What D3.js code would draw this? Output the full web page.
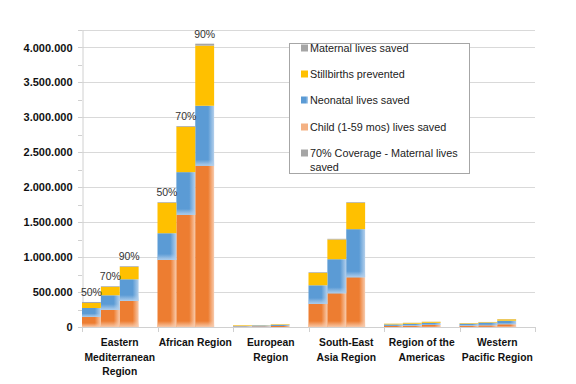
<!DOCTYPE html>
<html lang="en">
<head>
<meta charset="UTF-8">
<title>Lives saved by region</title>
<script src="https://cdn.jsdelivr.net/npm/d3@7"></script>
<style>
  body { margin: 0; background: #fff; }
  svg { display: block; font-family: "Liberation Sans", Arial, sans-serif; }
</style>
</head>
<body>
<svg width="576" height="384"></svg>
<script>
// categories and coverage levels
var regions = ['Eastern Mediterranean Region', 'African Region', 'European Region',
               'South-East Asia Region', 'Region of the Americas', 'Western Pacific Region'];
var regionLines = [['Eastern', 'Mediterranean', 'Region'], ['African Region'], ['European', 'Region'],
                   ['South-East', 'Asia Region'], ['Region of the', 'Americas'], ['Western', 'Pacific Region']];
var coverage = ['50%', '70%', '90%'];
var labelledRegions = ['Eastern Mediterranean Region', 'African Region'];

// values per region, one per coverage level
var child       = [[143000, 244000, 372000], [960000, 1605000, 2307000], [8000, 10000, 15000],
                   [330000, 483000, 712000], [15000, 20000, 30000], [20000, 25000, 40000]];
var neonatal    = [[129000, 210000, 311000], [382000, 611000, 859000], [7000, 12000, 15000],
                   [267000, 487000, 688000], [22000, 27000, 30000], [27000, 37000, 50000]];
var stillbirths = [[72000, 119000, 177000], [435000, 649000, 860000], [9000, 3000, 8000],
                   [177000, 282000, 377000], [10000, 12000, 14000], [8000, 8000, 20000]];
var maternal    = [[14000, 10000, 10000], [10000, 11000, 28000], [1000, 1000, 2000],
                   [10000, 10000, 10000], [1000, 2000, 2000], [1000, 2000, 3000]];

var yTicks = [0, 500000, 1000000, 1500000, 2000000, 2500000, 3000000, 3500000, 4000000];
var legendNames = ['Maternal lives saved', 'Stillbirths prevented', 'Neonatal lives saved',
                   'Child (1-59 mos) lives saved', '70% Coverage - Maternal lives saved'];

var keys = ['child', 'neonatal', 'stillbirths', 'maternal'];
var colors = { child: '#ED7D31', neonatal: '#5B9BD5', stillbirths: '#FFC000', maternal: '#A5A5A5' };
var edge = { child: '#F8CBAD', neonatal: '#B4D0EC' };

var svg = d3.select('svg');
var plotLeft = 82, plotRight = 535, plotTop = 30, plotBottom = 327;

// rows for the stack
var rows = [];
regions.forEach(function (r, i) {
  coverage.forEach(function (c, j) {
    rows.push({ region: r, cov: c, child: child[i][j], neonatal: neonatal[i][j],
                stillbirths: stillbirths[i][j], maternal: maternal[i][j] });
  });
});
var stacked = d3.stack().keys(keys)(rows);

var x0 = d3.scaleBand().domain(regions).range([plotLeft, plotRight]).padding(0);
var x1 = d3.scaleBand().domain(coverage).range([0, x0.bandwidth() * 0.75]).padding(0);
var y = d3.scaleLinear().domain([0, 4250000]).range([plotBottom, plotTop]);

// gradients
var defs = svg.append('defs');
['child', 'neonatal'].forEach(function (k) {
  var g = defs.append('linearGradient').attr('id', 'h-' + k).attr('x1', 0).attr('x2', 1).attr('y1', 0).attr('y2', 0);
  g.append('stop').attr('offset', '0%').attr('stop-color', colors[k]);
  g.append('stop').attr('offset', '68%').attr('stop-color', colors[k]);
  g.append('stop').attr('offset', '100%').attr('stop-color', edge[k]);
  var v = defs.append('linearGradient').attr('id', 'v-' + k).attr('x1', 0).attr('x2', 0).attr('y1', 0).attr('y2', 1);
  v.append('stop').attr('offset', '0%').attr('stop-color', edge[k]).attr('stop-opacity', 0);
  v.append('stop').attr('offset', '100%').attr('stop-color', edge[k]).attr('stop-opacity', 0.95);
});

// gridlines
svg.append('g').selectAll('line').data(yTicks.concat([4250000])).enter().append('line')
  .attr('x1', plotLeft).attr('x2', plotRight)
  .attr('y1', function (d) { return Math.round(y(d)) + 0.5; })
  .attr('y2', function (d) { return Math.round(y(d)) + 0.5; })
  .attr('stroke', '#D9D9D9').attr('stroke-width', 1);

// y axis
var axisY = d3.axisLeft(y).tickValues(yTicks).tickSize(0).tickPadding(10)
  .tickFormat(function (d) { return d3.format(',')(d).replace(/,/g, '.'); });
var gy = svg.append('g').attr('transform', 'translate(' + (plotLeft + 0.5) + ',0)').call(axisY);
gy.select('.domain').attr('stroke', '#D0D0D0');
gy.selectAll('text').attr('font-size', 11).attr('font-weight', 'bold').attr('fill', '#111')
  .attr('font-family', '"Liberation Sans", Arial, sans-serif');
// minor ticks
svg.append('g').selectAll('line').data(d3.range(0, 4250001, 250000)).enter().append('line')
  .attr('x1', plotLeft - 4).attr('x2', plotLeft)
  .attr('y1', function (d) { return Math.round(y(d)) + 0.5; })
  .attr('y2', function (d) { return Math.round(y(d)) + 0.5; })
  .attr('stroke', '#D0D0D0');

// bars
var layers = svg.append('g').selectAll('g').data(stacked).enter().append('g');
layers.each(function (layer) {
  var k = layer.key;
  var sel = d3.select(this).selectAll('g').data(layer).enter().append('g');
  sel.append('rect')
    .attr('x', function (d) { return x0(d.data.region) + x1(d.data.cov); })
    .attr('width', x1.bandwidth())
    .attr('y', function (d) { return y(d[1]); })
    .attr('height', function (d) { return Math.max(0, y(d[0]) - y(d[1])); })
    .attr('fill', edge[k] ? 'url(#h-' + k + ')' : colors[k]);
  if (edge[k]) {
    sel.append('rect')
      .attr('x', function (d) { return x0(d.data.region) + x1(d.data.cov); })
      .attr('width', x1.bandwidth())
      .attr('y', function (d) { var h = y(d[0]) - y(d[1]); return y(d[0]) - Math.min(6, h * 0.4); })
      .attr('height', function (d) { var h = y(d[0]) - y(d[1]); return Math.max(0, Math.min(6, h * 0.4)); })
      .attr('fill', 'url(#v-' + k + ')');
  }
});

// x axis
svg.append('line').attr('x1', plotLeft).attr('x2', plotRight).attr('y1', plotBottom + 0.5).attr('y2', plotBottom + 0.5)
  .attr('stroke', '#D0D0D0');
svg.append('g').selectAll('line').data(regions.concat(['end'])).enter().append('line')
  .attr('x1', function (d) { return Math.round(d === 'end' ? plotRight : x0(d)) + 0.5; })
  .attr('x2', function (d) { return Math.round(d === 'end' ? plotRight : x0(d)) + 0.5; })
  .attr('y1', plotBottom).attr('y2', plotBottom + 5).attr('stroke', '#D0D0D0');

var xl = svg.append('g').selectAll('text').data(regions).enter().append('text')
  .attr('x', function (d) { return x0(d) + x0.bandwidth() / 2; })
  .attr('y', plotBottom + 19)
  .attr('text-anchor', 'middle').attr('font-size', 10.3).attr('font-weight', 'bold').attr('fill', '#111');
xl.selectAll('tspan').data(function (d, i) { return regionLines[i]; }).enter().append('tspan')
  .attr('x', function () { var p = d3.select(this.parentNode).datum(); return x0(p) + x0.bandwidth() / 2; })
  .attr('dy', function (d, i) { return i === 0 ? 0 : 14.5; })
  .text(function (d) { return d; });

// coverage labels
var totals = stacked[stacked.length - 1];
svg.append('g').selectAll('text')
  .data(totals.filter(function (d) { return labelledRegions.indexOf(d.data.region) >= 0; }))
  .enter().append('text')
  .attr('x', function (d) { return x0(d.data.region) + x1(d.data.cov) + x1.bandwidth() / 2; })
  .attr('y', function (d) { return y(d[1]) - 6; })
  .attr('text-anchor', 'middle').attr('font-size', 10.5).attr('fill', '#333')
  .text(function (d) { return d.data.cov; });

// legend
var lg = svg.append('g').attr('transform', 'translate(289.5,43.5)');
lg.append('rect').attr('width', 180).attr('height', 130).attr('fill', '#fff').attr('stroke', '#A6A6A6');
var legendFill = ['#A5A5A5', '#FFC000', 'url(#h-neonatal)', 'url(#h-child)', '#A5A5A5'];
var legendY = [4.5, 30.5, 56.5, 83.5, 109.5];
legendNames.forEach(function (name, i) {
  lg.append('rect').attr('x', 11.5).attr('y', legendY[i] - 3.5).attr('width', 7).attr('height', 7)
    .attr('fill', i === 3 ? '#F4B183' : legendFill[i]);
  var t = lg.append('text').attr('x', 20.5).attr('y', legendY[i] + 4)
    .attr('font-size', 10.8).attr('fill', '#222');
  if (i === 4) {
    t.append('tspan').attr('x', 20.5).text('70% Coverage - Maternal lives');
    t.append('tspan').attr('x', 20.5).attr('dy', 14).text('saved');
  } else {
    t.text(name);
  }
});
</script>
</body>
</html>
